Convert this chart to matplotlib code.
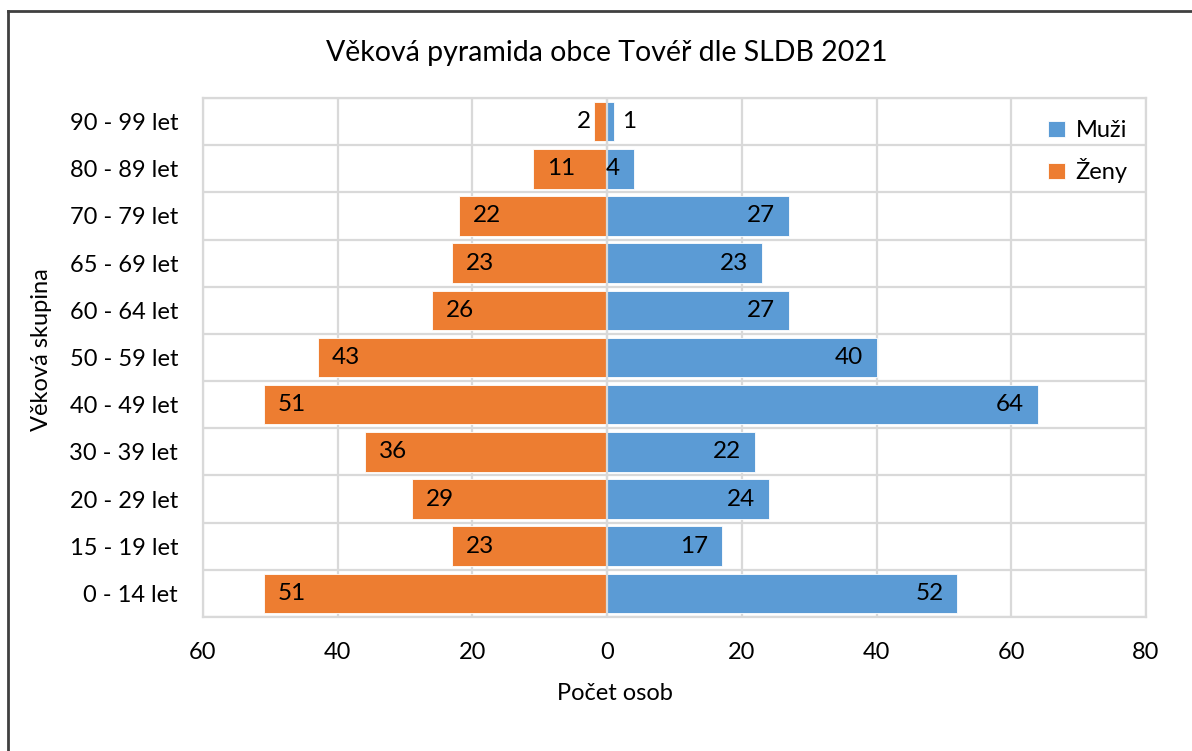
import matplotlib.pyplot as plt
from matplotlib.lines import Line2D
from matplotlib.ticker import FixedLocator, FuncFormatter

plt.rcParams['font.family'] = ['Lato', 'DejaVu Sans']

skupiny = ['0 - 14 let', '15 - 19 let', '20 - 29 let', '30 - 39 let', '40 - 49 let',
           '50 - 59 let', '60 - 64 let', '65 - 69 let', '70 - 79 let', '80 - 89 let',
           '90 - 99 let']
muzi = [52, 17, 24, 22, 64, 40, 27, 23, 27, 4, 1]
zeny = [51, 23, 29, 36, 51, 43, 26, 23, 22, 11, 2]

modra = '#5B9BD5'
oranzova = '#ED7D31'
seda = '#D9D9D9'

fig = plt.figure(figsize=(11.92, 7.51), dpi=100)
ax = fig.add_axes([203/1192, 1-617/751, (1146-203)/1192, (617-98)/751])

y = list(range(len(skupiny)))
ax.barh(y, muzi, height=0.84, color=modra, edgecolor='white', linewidth=0.6, label='Muži', zorder=2)
ax.barh(y, [-z for z in zeny], height=0.84, color=oranzova, edgecolor='white', linewidth=0.6, label='Ženy', zorder=2)
ax.axvline(0, color=seda, lw=1.6, zorder=3)

# popisky hodnot
for i in y:
    m = muzi[i]
    z = zeny[i]
    if m <= 2:
        ax.annotate(str(m), (m, i), xytext=(6, 0), textcoords='offset points',
                    ha='left', va='center', fontsize=17.5, zorder=4)
    else:
        ax.annotate(str(m), (m, i), xytext=(-10, 0), textcoords='offset points',
                    ha='right', va='center', fontsize=17.5, zorder=4)
    if z <= 2:
        ax.annotate(str(z), (-z, i), xytext=(-2, 0), textcoords='offset points',
                    ha='right', va='center', fontsize=17.5, zorder=4)
    else:
        ax.annotate(str(z), (-z, i), xytext=(10, 0), textcoords='offset points',
                    ha='left', va='center', fontsize=17.5, zorder=4)

ax.set_xlim(-60, 80)
ax.set_ylim(-0.5, len(skupiny) - 0.5)
ax.set_xticks(range(-60, 81, 20))
ax.xaxis.set_major_formatter(FuncFormatter(lambda v, p: str(abs(int(v)))))
ax.set_yticks(y)
ax.set_yticklabels(skupiny)
ax.yaxis.set_minor_locator(FixedLocator([k + 0.5 for k in range(-1, len(skupiny))]))
ax.tick_params(axis='both', which='both', length=0, labelsize=17)
ax.tick_params(axis='y', pad=18)
ax.tick_params(axis='x', pad=18)
ax.grid(axis='x', which='major', color=seda, lw=1.6, zorder=0)
ax.grid(axis='y', which='minor', color=seda, lw=1.6, zorder=0)
for s in ax.spines.values():
    s.set_color(seda)
    s.set_linewidth(1.6)

leg = ax.legend(loc='upper right', bbox_to_anchor=(1.003, 0.998), frameon=False, fontsize=17,
                handlelength=0.7, handleheight=0.7, handletextpad=0.45, labelspacing=0.72)

fig.text(607/1192, 1-53/751, 'Věková pyramida obce Tovéř dle SLDB 2021', ha='center', va='center', fontsize=20.5)
fig.text(615/1192, 1-693/751, 'Počet osob', ha='center', va='center', fontsize=17)
fig.text(42/1192, 1-350/751, 'Věková skupina', ha='center', va='center', rotation=90, fontsize=17)

# ramecek grafu
fig.add_artist(Line2D([8/1192, 8/1192], [0, 1-11/751], color='#404040', lw=2, transform=fig.transFigure))
fig.add_artist(Line2D([8/1192, 1], [1-11/751, 1-11/751], color='#404040', lw=2, transform=fig.transFigure))

fig.savefig('out.png', dpi=100)
